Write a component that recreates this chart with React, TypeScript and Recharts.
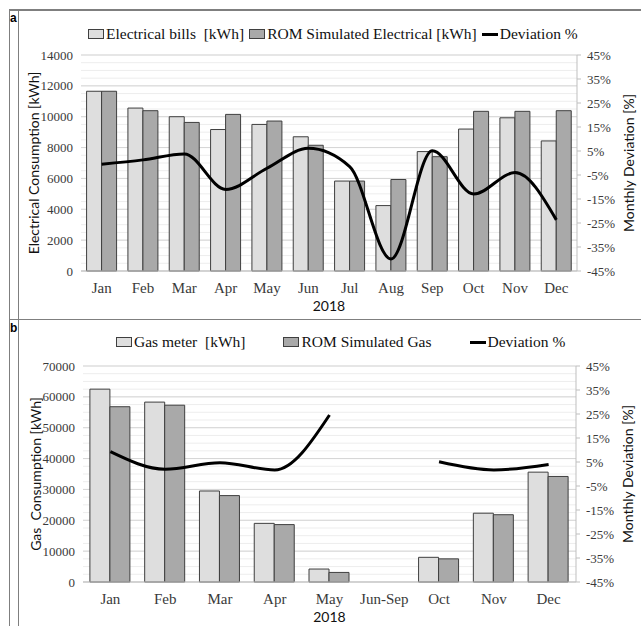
import React from "react";
import {
  ComposedChart,
  Bar,
  Line,
  XAxis,
  YAxis,
  CartesianGrid,
  Legend,
} from "recharts";

// ─── Data: panel a (electricity) ───
const elecMonths = ["Jan", "Feb", "Mar", "Apr", "May", "Jun", "Jul", "Aug", "Sep", "Oct", "Nov", "Dec"];
const elecBills = [11650, 10560, 10000, 9170, 9500, 8700, 5830, 4240, 7740, 9200, 9930, 8430];
const elecSim = [11650, 10390, 9630, 10150, 9720, 8150, 5830, 5930, 7410, 10350, 10350, 10390];
const elecDev = [-0.5, 1.3, 3.8, -11, -2.2, 6.1, -1.5, -40, 5.1, -12.9, -4, -23.7];
const elecTicks = [0, 2000, 4000, 6000, 8000, 10000, 12000, 14000];

// ─── Data: panel b (gas) ───
const gasMonths = ["Jan", "Feb", "Mar", "Apr", "May", "Jun-Sep", "Oct", "Nov", "Dec"];
const gasMeter = [62500, 58300, 29500, 19000, 4200, null, 8000, 22300, 35600];
const gasSim = [56800, 57300, 28000, 18600, 3100, null, 7500, 21800, 34200];
const gasDev = [9.3, 2, 4.7, 1.7, 24.6, null, 5.1, 1.7, 4];
const gasTicks = [0, 10000, 20000, 30000, 40000, 50000, 60000, 70000];

const devTicks = [-45, -35, -25, -15, -5, 5, 15, 25, 35, 45];

const C = {
  light: "#DEDEDE",
  dark: "#A9A9A9",
  barStroke: "#3F3F3F",
  line: "#000000",
  gridMinor: "#EDEDED",
  gridMajor: "#D6D6D6",
  axis: "#BFBFBF",
  text: "#3A3A3A",
  frame: "#7F7F7F",
};

const SERIF = "Liberation Serif";
const SANS = "Lato";

const minorValues = (max: number, step: number) =>
  Array.from({ length: Math.round(max / step) + 1 }, (_, i) => i * step);

const elecData = elecMonths.map((m, i) => ({ m, bill: elecBills[i], sim: elecSim[i], dev: elecDev[i] }));
const gasData = gasMonths.map((m, i) => ({ m, bill: gasMeter[i], sim: gasSim[i], dev: gasDev[i] }));

// rotated axis title drawn from the axis viewBox
function AxisTitle(props: any) {
  const { viewBox, value, side } = props;
  const cx = side === "left" ? viewBox.x + 14 : viewBox.x + viewBox.width + 7;
  const cy = viewBox.y + viewBox.height / 2;
  return (
    <text
      x={cx}
      y={cy}
      transform={`rotate(-90, ${cx}, ${cy})`}
      textAnchor="middle"
      dominantBaseline="central"
      fill="#111"
      style={{ fontFamily: SANS, fontSize: 14, whiteSpace: "pre" }}
    >
      {value}
    </text>
  );
}

type LegendItem = { label: string; kind: "light" | "dark" | "line" };

function LegendRow({ items, gap }: { items: LegendItem[]; gap: number }) {
  return (
    <div style={{ display: "flex", alignItems: "center", gap, fontFamily: SERIF, fontSize: 15.5, color: "#111", whiteSpace: "pre" }}>
      {items.map((it, i) => (
        <div key={i} style={{ display: "flex", alignItems: "center", gap: 2 }}>
          {it.kind === "line" ? (
            <span style={{ display: "inline-block", width: 16, height: 3, background: C.line }} />
          ) : (
            <span
              style={{
                display: "inline-block",
                width: 14,
                height: 8,
                background: it.kind === "light" ? C.light : C.dark,
                border: `1px solid ${C.barStroke}`,
              }}
            />
          )}
          <span>{it.label}</span>
        </div>
      ))}
    </div>
  );
}

const tickStyle = (size: number) => ({ fill: C.text, fontSize: size, style: { fontFamily: SERIF } });

function Panel({
  data,
  ticks,
  max,
  minorStep,
  yTitle,
  legendItems,
  legendGap,
  legendLeft,
  legendTop,
  height,
  margin,
  gapPct,
}: any) {
  return (
    <ComposedChart width={641} height={height} data={data} margin={margin} barGap={0} barCategoryGap={gapPct}>
      <CartesianGrid yAxisId="left" vertical={false} stroke={C.gridMinor} horizontalValues={minorValues(max, minorStep)} />
      <CartesianGrid yAxisId="left" vertical={false} stroke={C.gridMajor} horizontalValues={ticks} />
      <XAxis
        dataKey="m"
        height={40}
        tickLine={false}
        axisLine={{ stroke: C.axis }}
        tickMargin={5}
        interval={0}
        tick={tickStyle(15)}
        label={{ value: "2018", position: "insideBottom", offset: 0, fill: "#111", fontSize: 14, style: { fontFamily: SANS } }}
      />
      <YAxis
        yAxisId="left"
        width={62}
        domain={[0, max]}
        ticks={ticks}
        interval={0}
        axisLine={false}
        tickLine={false}
        tick={tickStyle(13)}
        label={<AxisTitle value={yTitle} side="left" />}
      />
      <YAxis
        yAxisId="right"
        orientation="right"
        width={44}
        domain={[-45, 45]}
        ticks={devTicks}
        interval={0}
        axisLine={{ stroke: C.axis }}
        tickLine={{ stroke: C.axis }}
        tickSize={4}
        tickMargin={6}
        tickFormatter={(v: number) => `${v}%`}
        tick={tickStyle(13)}
        label={<AxisTitle value="Monthly Deviation [%]" side="right" />}
      />
      <Legend
        layout="horizontal"
        verticalAlign="middle"
        wrapperStyle={{ top: legendTop, left: legendLeft, width: "auto", height: 20 }}
        content={() => <LegendRow items={legendItems} gap={legendGap} />}
      />
      <Bar yAxisId="left" dataKey="bill" fill={C.light} stroke={C.barStroke} strokeWidth={1} isAnimationActive={false} />
      <Bar yAxisId="left" dataKey="sim" fill={C.dark} stroke={C.barStroke} strokeWidth={1} isAnimationActive={false} />
      <Line
        yAxisId="right"
        dataKey="dev"
        type="monotone"
        stroke={C.line}
        strokeWidth={3}
        dot={false}
        connectNulls={false}
        isAnimationActive={false}
      />
    </ComposedChart>
  );
}

export default function App() {
  const line = (style: React.CSSProperties) => (
    <div style={{ position: "absolute", background: C.frame, ...style }} />
  );
  return (
    <div
      style={{
        position: "absolute",
        left: 0,
        top: 0,
        width: 641,
        height: 626,
        background: "#fff",
        overflow: "hidden",
        fontFamily: SERIF,
      }}
    >
      <div style={{ position: "absolute", left: 0, top: 10 }}>
        <Panel
          data={elecData}
          ticks={elecTicks}
          max={14000}
          minorStep={500}
          yTitle="Electrical Consumption [kWh]"
          legendItems={[
            { label: "Electrical bills  [kWh]", kind: "light" },
            { label: "ROM Simulated Electrical [kWh]", kind: "dark" },
            { label: "Deviation %", kind: "line" },
          ]}
          legendGap={5}
          legendLeft={88}
          legendTop={15}
          height={309}
          margin={{ top: 45, right: 20, bottom: 8, left: 19 }}
          gapPct="13.5%"
        />
      </div>
      <div style={{ position: "absolute", left: 0, top: 320 }}>
        <Panel
          data={gasData}
          ticks={gasTicks}
          max={70000}
          minorStep={2500}
          yTitle="Gas  Consumption [kWh]"
          legendItems={[
            { label: "Gas meter  [kWh]", kind: "light" },
            { label: "ROM Simulated Gas", kind: "dark" },
            { label: "Deviation %", kind: "line" },
          ]}
          legendGap={38}
          legendLeft={116}
          legendTop={13}
          height={306}
          margin={{ top: 46, right: 21, bottom: 4, left: 21 }}
          gapPct="12.6%"
        />
      </div>
      {line({ left: 9, top: 9, width: 632, height: 1.5 })}
      {line({ left: 9, top: 318.5, width: 632, height: 1.5 })}
      {line({ left: 8.5, top: 9, width: 1.5, height: 617 })}
      {line({ left: 17.5, top: 9, width: 1.5, height: 617 })}
      <div style={{ position: "absolute", left: 10, top: 11, fontFamily: "Liberation Sans", fontWeight: 700, fontSize: 12 }}>a</div>
      <div style={{ position: "absolute", left: 10, top: 321, fontFamily: "Liberation Sans", fontWeight: 700, fontSize: 12 }}>b</div>
    </div>
  );
}
